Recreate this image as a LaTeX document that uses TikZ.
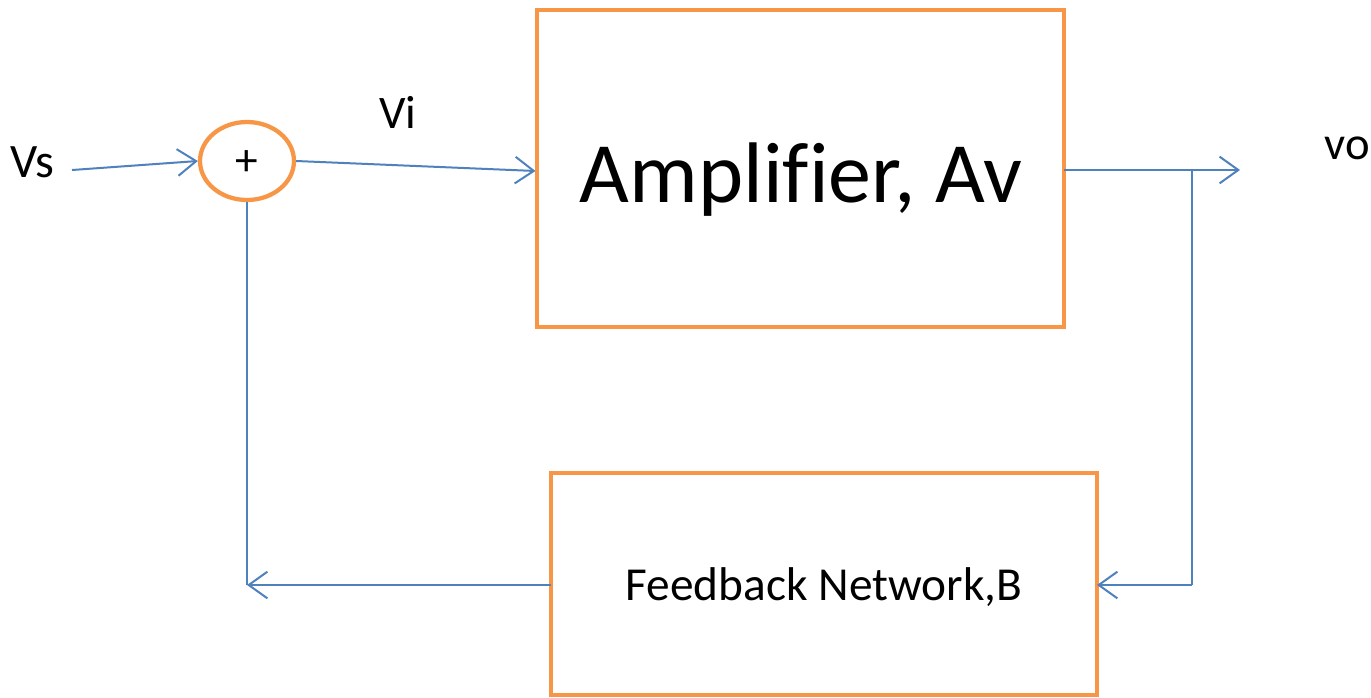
\documentclass[tikz,border=0pt]{standalone}
\usepackage{fontspec}
\setmainfont[Ligatures={NoCommon}]{Carlito}
\usetikzlibrary{arrows.meta,shapes.geometric}
\definecolor{boxorange}{HTML}{F79646}
\definecolor{wireblue}{HTML}{4F81BD}
\tikzset{
  block/.style={draw=boxorange, line width=3.6pt, inner sep=0pt},
  wire/.style={draw=wireblue, line width=1.5pt},
  arrowwire/.style={wire, -{Straight Barb[length=14pt,width=20pt,line width=1.5pt]}},
  label/.style={inner sep=0pt, anchor=base},
}
\begin{document}
\begin{tikzpicture}[x=0.75pt, y=-0.75pt]
  \useasboundingbox (0,0) rectangle (1371,697);
  % blocks
  \node[block, minimum width=527*0.75pt, minimum height=317*0.75pt] (amp) at (800.5,168.5) {};
  \node[label, font=\fontsize{64.5}{76}\selectfont] at (801,202) {Amplifier, Av};
  \node[block, minimum width=546*0.75pt, minimum height=222*0.75pt] (fb) at (824,584) {};
  \node[label, font=\fontsize{35.5}{42}\selectfont] at (824,600) {Feedback Network,B};
  % summing junction
  \node[draw=boxorange, line width=3.2pt, ellipse, minimum width=94*0.75pt, minimum height=78*0.75pt, inner sep=0pt] (sum) at (247,161) {};
  \node[font=\fontsize{34}{40}\selectfont, inner sep=0pt] at (247,163) {+};
  % text labels
  \node[label, font=\fontsize{36}{42}\selectfont] (vs) at (32,177) {Vs};
  \node[label, font=\fontsize{35}{42}\selectfont] (vi) at (398,128) {Vi};
  \node[label, font=\fontsize{35}{42}\selectfont] (vo) at (1347,159) {vo};
  % connectors
  \coordinate (vsend) at (72,170);
  \coordinate (ampin) at (535.5,171);
  \coordinate (ampout) at (1064,170);
  \coordinate (outend) at (1240,170);
  \coordinate (tap) at (1192,170);
  \coordinate (tapdown) at (1192,585);
  \coordinate (fbin) at (1097,585);
  \coordinate (fbout) at (551,585);
  \coordinate (ret) at (247,585);
  \draw[arrowwire] (vsend) -- (sum.west);
  \draw[arrowwire] (sum.east) -- (ampin);
  \draw[arrowwire] (ampout) -- (outend);
  \draw[wire] (tap) -- (tapdown);
  \draw[arrowwire] (tapdown) -- (fbin);
  \draw[arrowwire] (fbout) -- (ret);
  \draw[wire] (ret) -- (sum.south);
\end{tikzpicture}
\end{document}
